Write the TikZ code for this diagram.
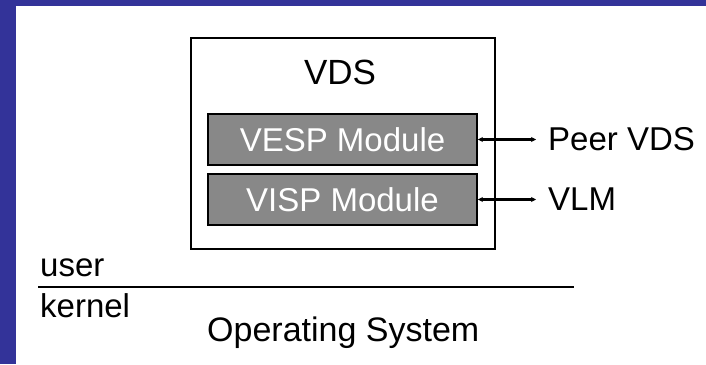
\documentclass[tikz,border=0pt]{standalone}
\usepackage{fontspec}
\setmainfont{Liberation Sans}
\usetikzlibrary{arrows.meta}
\definecolor{frameblue}{RGB}{51,51,153}
\definecolor{modgray}{RGB}{136,136,136}
\begin{document}
\begin{tikzpicture}[x=1pt,y=-1pt,
    txt/.style={inner sep=0pt,font=\fontsize{33}{40}\selectfont},
    modbox/.style={draw=black,line width=1.8pt,fill=modgray,text=white,minimum width=269pt,minimum height=51pt,inner sep=0pt,font=\fontsize{33}{40}\selectfont},
    link/.style={{Stealth[length=5pt,width=5pt]}-{Stealth[length=5pt,width=5pt]},line width=2.6pt}]
            \useasboundingbox (0,0) rectangle (706,364);
            \fill[frameblue] (0,0) rectangle (706,6);
            \fill[frameblue] (0,0) rectangle (16,364);
            \node [draw,line width=1.8pt,minimum width=304pt,minimum height=211pt,inner sep=0pt] (vds) at (343,143.5) {};
            \node [txt,font=\fontsize{35}{42}\selectfont] (title) at (340,72) {VDS};
            \node [modbox] (vesp) at (342.5,139.5) {VESP Module};
            \node [modbox] (visp) at (342.5,199.5) {VISP Module};
            \node [txt,anchor=west,inner xsep=12pt] (peer) at (536,139.5) {Peer VDS};
            \node [txt,anchor=west,inner xsep=12pt] (vlm) at (536,199.5) {VLM};
            \draw[link] (vesp.east) -- (peer.west);
            \draw[link] (visp.east) -- (vlm.west);
            \node [txt,anchor=base west] (user) at (40,276) {user};
            \node [txt,anchor=base west] (kernel) at (40,317) {kernel};
            \coordinate (sepL) at (38,287);
            \coordinate (sepR) at (574,287);
            \draw[line width=2pt] (sepL) -- (sepR);
            \node [txt,anchor=base west,font=\fontsize{34}{41}\selectfont] (os) at (207,341) {Operating System};
        \end{tikzpicture}
\end{document}
